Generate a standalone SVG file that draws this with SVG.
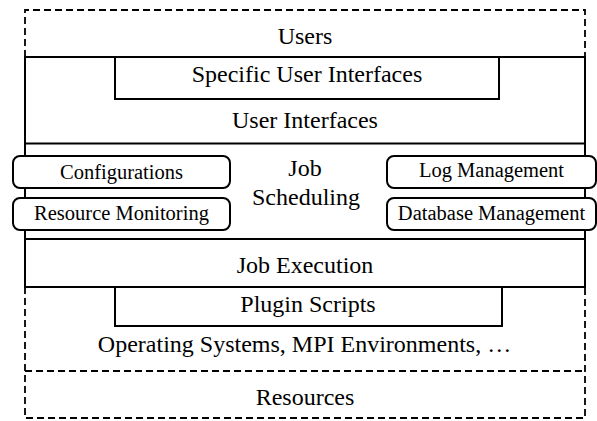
<svg xmlns="http://www.w3.org/2000/svg" width="597" height="421" viewBox="0 0 597 421">
<style>
.solid{fill:none;stroke:#000;stroke-width:2}
.dash{fill:none;stroke:#000;stroke-width:1.8;stroke-dasharray:7,4}
.rbox{fill:#fff;stroke:#000;stroke-width:2}
text{font-family:"Liberation Serif","Times New Roman",serif;fill:#000;text-anchor:middle}
.big{font-size:24px}
.small{font-size:20.5px}
</style>
<rect width="597" height="421" fill="#fff"/>
<g id="frame">
<path class="dash" d="M25,57 V10 H585 V57"/>
<path class="dash" d="M25,287 V418 H585 V287"/>
<path class="dash" d="M25,371 H585"/>
<rect class="solid" x="25" y="57" width="560" height="230"/>
<line class="solid" x1="25" y1="143.5" x2="585" y2="143.5"/>
<line class="solid" x1="25" y1="239" x2="585" y2="239"/>
</g>
<g id="users"><text class="big" x="305" y="44">Users</text></g>
<g id="specific-ui">
<rect class="solid" x="115" y="57" width="384" height="42"/>
<text class="big" x="307" y="82">Specific User Interfaces</text>
</g>
<g id="user-interfaces"><text class="big" x="305" y="128">User Interfaces</text></g>
<g id="job-scheduling">
<text class="big" x="305" y="176">Job</text>
<text class="big" x="306" y="205">Scheduling</text>
</g>
<g id="configurations">
<rect class="rbox" x="13" y="156" width="217" height="32" rx="7"/>
<text class="small" x="121.5" y="179">Configurations</text>
</g>
<g id="resource-monitoring">
<rect class="rbox" x="13" y="198" width="217" height="32" rx="7"/>
<text class="small" x="121.5" y="220">Resource Monitoring</text>
</g>
<g id="log-management">
<rect class="rbox" x="387" y="156" width="209" height="32" rx="7"/>
<text class="small" x="491.5" y="177">Log Management</text>
</g>
<g id="database-management">
<rect class="rbox" x="387" y="198" width="209" height="32" rx="7"/>
<text class="small" x="491.5" y="220">Database Management</text>
</g>
<g id="job-execution"><text class="big" x="305" y="273">Job Execution</text></g>
<g id="plugin-scripts">
<rect class="solid" x="115" y="287" width="387" height="39"/>
<text class="big" x="308" y="312">Plugin Scripts</text>
</g>
<g id="os"><text class="big" x="304.5" y="352">Operating Systems, MPI Environments, …</text></g>
<g id="resources"><text class="big" x="305" y="405">Resources</text></g>
<g id="connectors"></g>
</svg>
